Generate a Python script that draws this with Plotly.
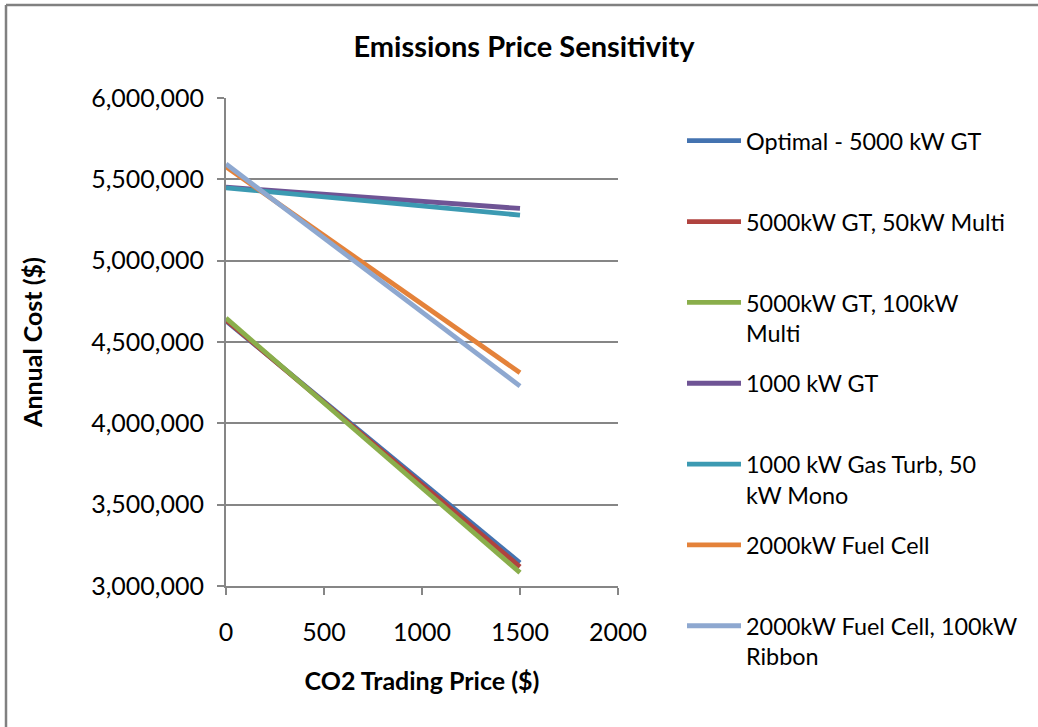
import plotly.graph_objects as go

x_price = [0, 1500]
series_names = [
    "Optimal - 5000 kW GT",
    "5000kW GT, 50kW Multi",
    "5000kW GT, 100kW<br>Multi",
    "1000 kW GT",
    "1000 kW Gas Turb, 50<br>kW Mono",
    "2000kW Fuel Cell",
    "2000kW Fuel Cell, 100kW<br>Ribbon",
]
optimal_5000gt = [4630000, 3143000]
gt5000_multi50 = [4635000, 3118000]
gt5000_multi100 = [4647000, 3082000]
gt1000 = [5452000, 5321000]
gasturb1000_mono50 = [5448000, 5280000]
fuelcell2000 = [5577000, 4311000]
fuelcell2000_ribbon100 = [5594000, 4229000]
series_values = [optimal_5000gt, gt5000_multi50, gt5000_multi100, gt1000,
                 gasturb1000_mono50, fuelcell2000, fuelcell2000_ribbon100]
colors = ["#4473B0", "#B0433F", "#8AAE4B", "#6F5495", "#3C9AB2", "#E4823A", "#8EA8D0"]

FONT = "Lato"
W, H = 1038, 727
L, R, T, B = 226, 618, 98, 586

fig = go.Figure()
for i, (name, vals, c) in enumerate(zip(series_names, series_values, colors)):
    label = name if "<br>" in name else name + "<br> "
    fig.add_trace(go.Scatter(x=x_price, y=vals, mode="lines", name=label,
                             legendgroup=f"g{i}",
                             line=dict(color=c, width=4.8)))

def px2x(px):
    return (px - L) / (R - L)

def py2y(py):
    return (B - py) / (B - T)

fig.update_layout(
    width=W, height=H,
    margin=dict(l=L, r=W - R, t=T, b=H - B, pad=0),
    paper_bgcolor="white", plot_bgcolor="white",
    font=dict(family=FONT, size=24, color="black"),
    title=dict(text="<b>Emissions Price Sensitivity</b>", x=524 / W, xanchor="center",
               y=1 - 47 / H, yanchor="middle", font=dict(family=FONT, size=29)),
    xaxis=dict(range=[0, 2000], dtick=500, tick0=0, showgrid=False,
               showline=True, linecolor="#868686", linewidth=2,
               ticks="outside", ticklen=7, tickcolor="#868686", tickwidth=2,
               ticklabelstandoff=16, tickfont=dict(size=25),
               title=dict(text="<b>CO2 Trading Price ($)</b>", standoff=27,
                          font=dict(size=25)),
               zeroline=False),
    yaxis=dict(range=[3000000, 6000000], dtick=500000, tickformat=",",
               showgrid=True, gridcolor="#868686", gridwidth=2,
               showline=True, linecolor="#868686", linewidth=2,
               ticks="outside", ticklen=7, tickcolor="#868686", tickwidth=2,
               ticklabelstandoff=8, tickfont=dict(size=25),
               title=dict(text="<b>Annual Cost ($)</b>", standoff=41,
                          font=dict(size=25)),
               zeroline=False),
    legend=dict(x=px2x(682), y=py2y(119), xanchor="left", yanchor="top",
                traceorder="grouped", tracegroupgap=17, valign="top",
                font=dict(family=FONT, size=23.4), itemwidth=54,
                maxheight=700,
                bgcolor="rgba(0,0,0,0)"),
    showlegend=True,
)

# outer chart border (left and top edges visible in the crop)
fig.add_shape(type="line", xref="paper", yref="paper",
              x0=px2x(6), x1=px2x(6), y0=py2y(5), y1=py2y(H + 5),
              line=dict(color="#808080", width=2.5))
fig.add_shape(type="line", xref="paper", yref="paper",
              x0=px2x(6), x1=px2x(W + 5), y0=py2y(5), y1=py2y(5),
              line=dict(color="#808080", width=2.5))

fig.write_html("out.html", config={"displayModeBar": False},
               post_script="document.body.style.margin='0';")
